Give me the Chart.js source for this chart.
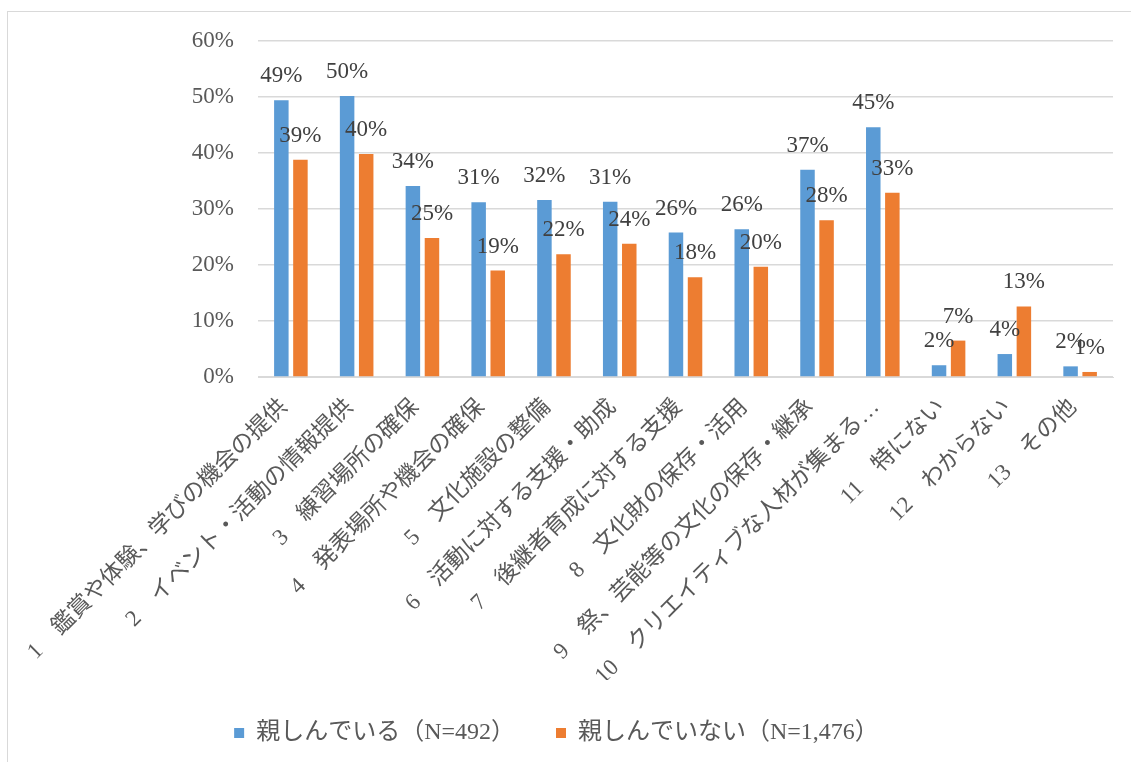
<!DOCTYPE html>
<html>
<head>
<meta charset="utf-8">
<script src="https://cdn.jsdelivr.net/npm/chart.js@4.4.1/dist/chart.umd.min.js"></script>
<style>
  body { margin: 0; background: #fff; }
  #wrap { position: relative; width: 1131px; height: 762px; }
  #frame { position: absolute; left: 7px; top: 11px; width: 1200px; height: 800px;
           border-left: 1px solid #d9d9d9; border-top: 1px solid #d9d9d9; pointer-events: none; }
</style>
</head>
<body>
<div id="wrap">
  <canvas id="chart" width="1131" height="762"></canvas>
  <div id="frame"></div>
</div>
<script>
// Data
const categories = [
    "1　鑑賞や体験、学びの機会の提供",
    "2　イベント・活動の情報提供",
    "3　練習場所の確保",
    "4　発表場所や機会の確保",
    "5　文化施設の整備",
    "6　活動に対する支援・助成",
    "7　後継者育成に対する支援",
    "8　文化財の保存・活用",
    "9　祭、芸能等の文化の保存・継承",
    "10　クリエイティブな人材が集まる…",
    "11　特にない",
    "12　わからない",
    "13　その他"
];
const seriesNames = ["親しんでいる（N=492）", "親しんでいない（N=1,476）"];
const familiar = [49.4, 50.2, 34.1, 31.2, 31.6, 31.3, 25.8, 26.4, 37.0, 44.6, 2.1, 4.1, 1.9];
const notFamiliar = [38.8, 39.8, 24.8, 19.0, 21.9, 23.8, 17.8, 19.7, 28.0, 32.9, 6.5, 12.6, 0.9];
const yTicks = [0, 10, 20, 30, 40, 50, 60];

const FONT = "'Liberation Serif', 'Noto Sans CJK JP', serif";

// Draws the value above each bar
const valueLabels = {
    id: 'valueLabels',
    afterDatasetsDraw(chart) {
        const ctx = chart.ctx;
        ctx.save();
        ctx.font = "23px " + FONT;
        ctx.fillStyle = '#404040';
        ctx.textAlign = 'center';
        ctx.textBaseline = 'middle';
        chart.data.datasets.forEach((ds, i) => {
            chart.getDatasetMeta(i).data.forEach((bar, j) => {
                ctx.fillText(Math.round(ds.data[j]) + '%', bar.x, bar.y - 24);
            });
        });
        ctx.restore();
    }
};

new Chart(document.getElementById('chart'), {
    type: 'bar',
    data: {
        labels: categories,
        datasets: [
            { label: seriesNames[0], data: familiar, backgroundColor: '#5b9bd5' },
            { label: seriesNames[1], data: notFamiliar, backgroundColor: '#ed7d31' }
        ]
    },
    options: {
        responsive: false,
        animation: false,
        layout: { padding: { top: 41, right: 18, bottom: 7, left: 0 } },
        categoryPercentage: 0.58,
        barPercentage: 0.76,
        scales: {
            x: {
                grid: { display: false },
                border: { display: true, color: '#d9d9d9' },
                ticks: {
                    color: '#595959',
                    font: { family: FONT, size: 23 },
                    minRotation: 45,
                    maxRotation: 45,
                    autoSkip: false,
                    padding: 9,
                    labelOffset: -7
                },
                // tall enough so the rotated labels are not clipped by the legend
                afterFit(scale) { scale.height = 303; }
            },
            y: {
                min: 0,
                max: 60,
                grid: { color: '#d9d9d9', lineWidth: 1.5, drawTicks: false },
                border: { display: false },
                afterBuildTicks(scale) { scale.ticks = yTicks.map(v => ({ value: v })); },
                ticks: {
                    color: '#595959',
                    font: { family: FONT, size: 23 },
                    padding: 24,
                    callback: v => v + '%'
                },
                afterFit(scale) { scale.width = 258; }
            }
        },
        plugins: {
            legend: {
                position: 'bottom',
                labels: {
                    color: '#595959',
                    font: { family: FONT, size: 24 },
                    boxWidth: 10,
                    boxHeight: 10,
                    padding: 41
                }
            },
            tooltip: { enabled: false }
        }
    },
    plugins: [valueLabels]
});
</script>
</body>
</html>
